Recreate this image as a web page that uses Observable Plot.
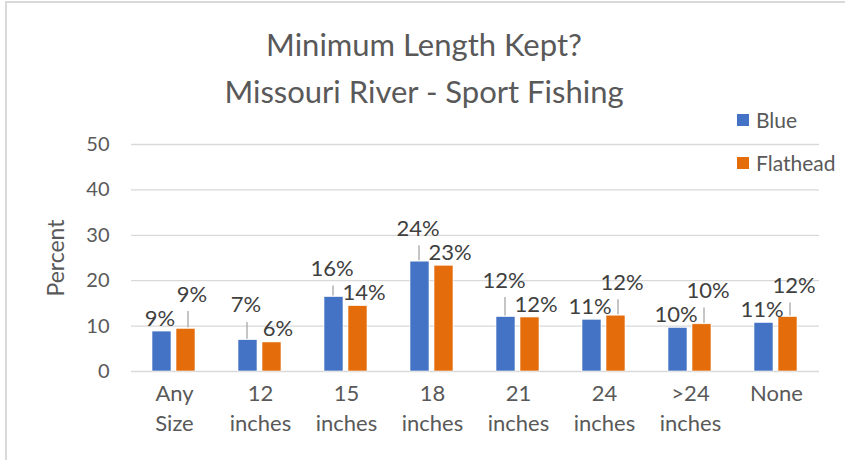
<!DOCTYPE html>
<html>
<head>
<meta charset="utf-8">
<script src="https://cdn.jsdelivr.net/npm/d3@7"></script>
<script src="https://cdn.jsdelivr.net/npm/@observablehq/plot@0.6"></script>
<style>
  html, body { margin: 0; padding: 0; background: #fff; }
  #wrap { position: relative; width: 845px; height: 460px; overflow: hidden; font-family: Lato, "Noto Sans", sans-serif; color: #595959; }
  #wrap svg { position: absolute; left: 0; top: 0; }
  .border { position: absolute; left: 5px; top: 1px; width: 900px; height: 500px; border-left: 2px solid #d9d9d9; border-top: 2px solid #d9d9d9; }
  .title { position: absolute; left: 0; width: 848px; top: 21px; text-align: center; font-size: 31px; line-height: 47px; }
  .ylabel { position: absolute; left: 55px; top: 258px; transform: translate(-50%, -50%) rotate(-90deg); font-size: 23px; white-space: nowrap; }
  .legend { position: absolute; left: 737px; font-size: 21px; display: flex; align-items: center; }
  .legend span.sw { display: inline-block; width: 12px; height: 12px; margin-right: 7px; }
</style>
</head>
<body>
<div id="wrap">
  <div class="border"></div>
</div>
<script>
const categories = ["Any Size", "12 inches", "15 inches", "18 inches", "21 inches", "24 inches", ">24 inches", "None"];
const tickLabels = ["Any\nSize", "12\ninches", "15\ninches", "18\ninches", "21\ninches", "24\ninches", ">24\ninches", "None"];
const series = ["Blue", "Flathead"];
const blueValues = [8.8, 6.9, 16.4, 24.2, 12.0, 11.4, 9.6, 10.7];
const flatheadValues = [9.4, 6.4, 14.4, 23.3, 11.9, 12.3, 10.4, 12.0];
const yTicks = [0, 10, 20, 30, 40, 50];
const colors = ["#4472C4", "#E46C0A"];
const titleLines = ["Minimum Length Kept?", "Missouri River - Sport Fishing"];
const yLabel = "Percent";

const W = 845, H = 460, mTop = 144, mBottom = 89, mLeft = 127, mRight = 23;
const k = (H - mTop - mBottom) / 50; // px per unit

const data = [];
const labels = [];
categories.forEach((c, i) => {
  const vals = [blueValues[i], flatheadValues[i]];
  const highIdx = vals[0] >= vals[1] ? 0 : 1;
  const lowIdx = 1 - highIdx;
  const lowCenter = vals[lowIdx] * k + 13;
  const highCenter = Math.max(vals[highIdx] * k + 13, lowCenter + 24);
  const centers = [];
  centers[lowIdx] = lowCenter; centers[highIdx] = highCenter;
  series.forEach((s, j) => {
    data.push({cat: c, series: s, value: vals[j]});
    const top = vals[j] * k;
    const lb = centers[j] - 17;
    labels.push({
      cat: c, series: s, text: Math.round(vals[j]) + "%",
      y: centers[j] / k,
      leader: lb - top > 4 ? {y1: (top + 1) / k, y2: lb / k} : null
    });
  });
});
const leaders = labels.filter(d => d.leader).map(d => ({cat: d.cat, series: d.series, y1: d.leader.y1, y2: d.leader.y2}));

const chart = Plot.plot({
  width: W, height: H,
  marginTop: mTop, marginBottom: mBottom, marginLeft: mLeft, marginRight: mRight,
  style: {fontFamily: "Lato, 'Noto Sans', sans-serif", color: "#595959", background: "transparent"},
  fx: {domain: categories, padding: 0, label: null},
  x: {domain: series, paddingInner: 0.2, paddingOuter: 0.875, axis: null},
  y: {domain: [0, 50], axis: null},
  color: {domain: series, range: colors},
  marks: [
    Plot.ruleY(yTicks, {stroke: "#d9d9d9", strokeWidth: 1.3}),
    Plot.axisY(yTicks, {tickSize: 0, tickPadding: 22, fontSize: 20, label: null, fill: "#595959"}),
    Plot.axisFx({anchor: "bottom", tickSize: 0, tickPadding: 8, fontSize: 22, lineHeight: 1.36, label: null, fill: "#595959",
      tickFormat: d => tickLabels[categories.indexOf(d)]}),
    Plot.barY(data, {fx: "cat", x: "series", y: "value", fill: "series", stroke: "#fff", strokeWidth: 0.6}),
    Plot.ruleX(leaders.filter(d => d.series === "Blue"), {fx: "cat", x: "series", y1: "y1", y2: "y2", stroke: "#a6a6a6", strokeWidth: 1.3, dx: -1}),
    Plot.ruleX(leaders.filter(d => d.series === "Flathead"), {fx: "cat", x: "series", y1: "y1", y2: "y2", stroke: "#a6a6a6", strokeWidth: 1.3, dx: 2}),
    Plot.text(labels.filter(d => d.series === "Blue"), {fx: "cat", x: "series", y: "y", text: "text", fontSize: 22, fill: "#404040", dx: -2, lineAnchor: "middle"}),
    Plot.text(labels.filter(d => d.series === "Flathead"), {fx: "cat", x: "series", y: "y", text: "text", fontSize: 22, fill: "#404040", dx: 6, lineAnchor: "middle"})
  ]
});

const wrap = document.getElementById("wrap");
wrap.appendChild(chart);

const t = document.createElement("div");
t.className = "title";
t.innerHTML = titleLines.join("<br>");
wrap.appendChild(t);

const yl = document.createElement("div");
yl.className = "ylabel";
yl.textContent = yLabel;
wrap.appendChild(yl);

series.forEach((s, i) => {
  const l = document.createElement("div");
  l.className = "legend";
  l.style.top = (107 + i * 43) + "px";
  l.innerHTML = `<span class="sw" style="background:${colors[i]}"></span><span>${s}</span>`;
  wrap.appendChild(l);
});
</script>
</body>
</html>
